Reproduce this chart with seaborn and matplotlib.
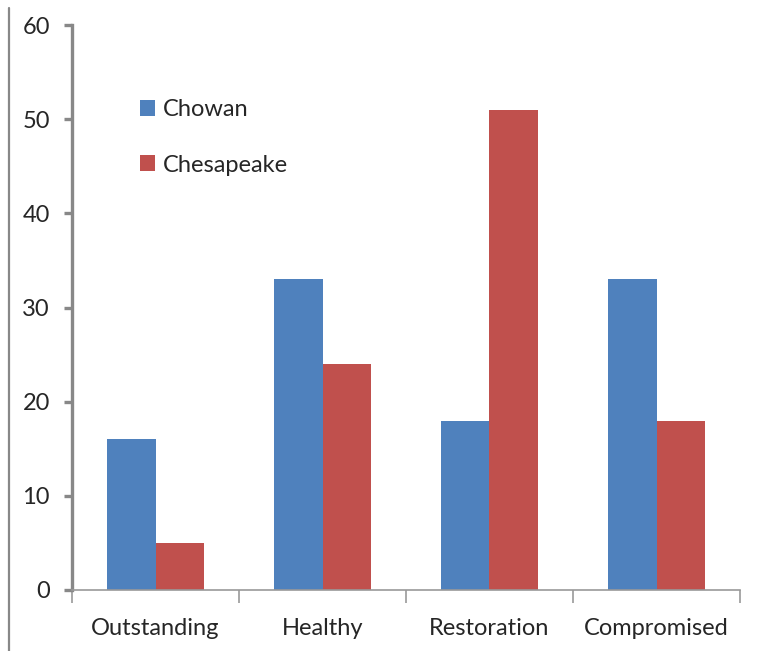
import pandas as pd
import matplotlib.pyplot as plt
import seaborn as sns
from matplotlib.lines import Line2D

categories = ["Outstanding", "Healthy", "Restoration", "Compromised"]
chowan = [16, 33, 18, 33]
chesapeake = [5, 24, 51, 18]
series = ["Chowan", "Chesapeake"]
yticks = [0, 10, 20, 30, 40, 50, 60]

df = pd.DataFrame({
    "category": categories * 2,
    "value": chowan + chesapeake,
    "series": [series[0]] * 4 + [series[1]] * 4,
})

sns.set_style("white")
plt.rcParams["font.family"] = ["Lato", "DejaVu Sans"]

fig = plt.figure(figsize=(7.69, 6.51), dpi=100)
ax = fig.add_axes([72 / 769, 1 - 590 / 651, (740 - 72) / 769, (590 - 25) / 651])

sns.barplot(data=df, x="category", y="value", hue="series", order=categories,
            hue_order=series, palette=["#4F81BD", "#C0504D"], width=0.575,
            gap=0, saturation=1, linewidth=0, ax=ax)

ax.set_xlim(-0.5, 3.5)
ax.set_ylim(0, 60)
ax.set_yticks(yticks)
ax.set_xlabel("")
ax.set_ylabel("")

for s in ["top", "right"]:
    ax.spines[s].set_visible(False)
ax.spines["left"].set_color("#888888")
ax.spines["left"].set_linewidth(2.4)
ax.spines["bottom"].set_color("#999999")
ax.spines["bottom"].set_linewidth(1.2)

ax.tick_params(axis="y", which="major", direction="out", length=6, width=2.4,
               color="#888888", labelsize=17, pad=10, left=True)
ax.tick_params(axis="x", which="major", length=0, labelsize=17, pad=20)
ax.set_xticks([-0.5, 0.5, 1.5, 2.5, 3.5], minor=True)
ax.tick_params(axis="x", which="minor", direction="out", length=9, width=1.2,
               color="#999999", bottom=True)

leg = ax.legend(loc="upper left", bbox_to_anchor=(0.087, 0.885), frameon=False,
                fontsize=17, handlelength=0.65, handleheight=0.65,
                handletextpad=0.35, labelspacing=1.45, borderaxespad=0)

fig.add_artist(Line2D([9 / 769, 9 / 769], [0, 1 - 8 / 651], color="#888888", linewidth=1.6))

fig.savefig("out.png", dpi=100)
